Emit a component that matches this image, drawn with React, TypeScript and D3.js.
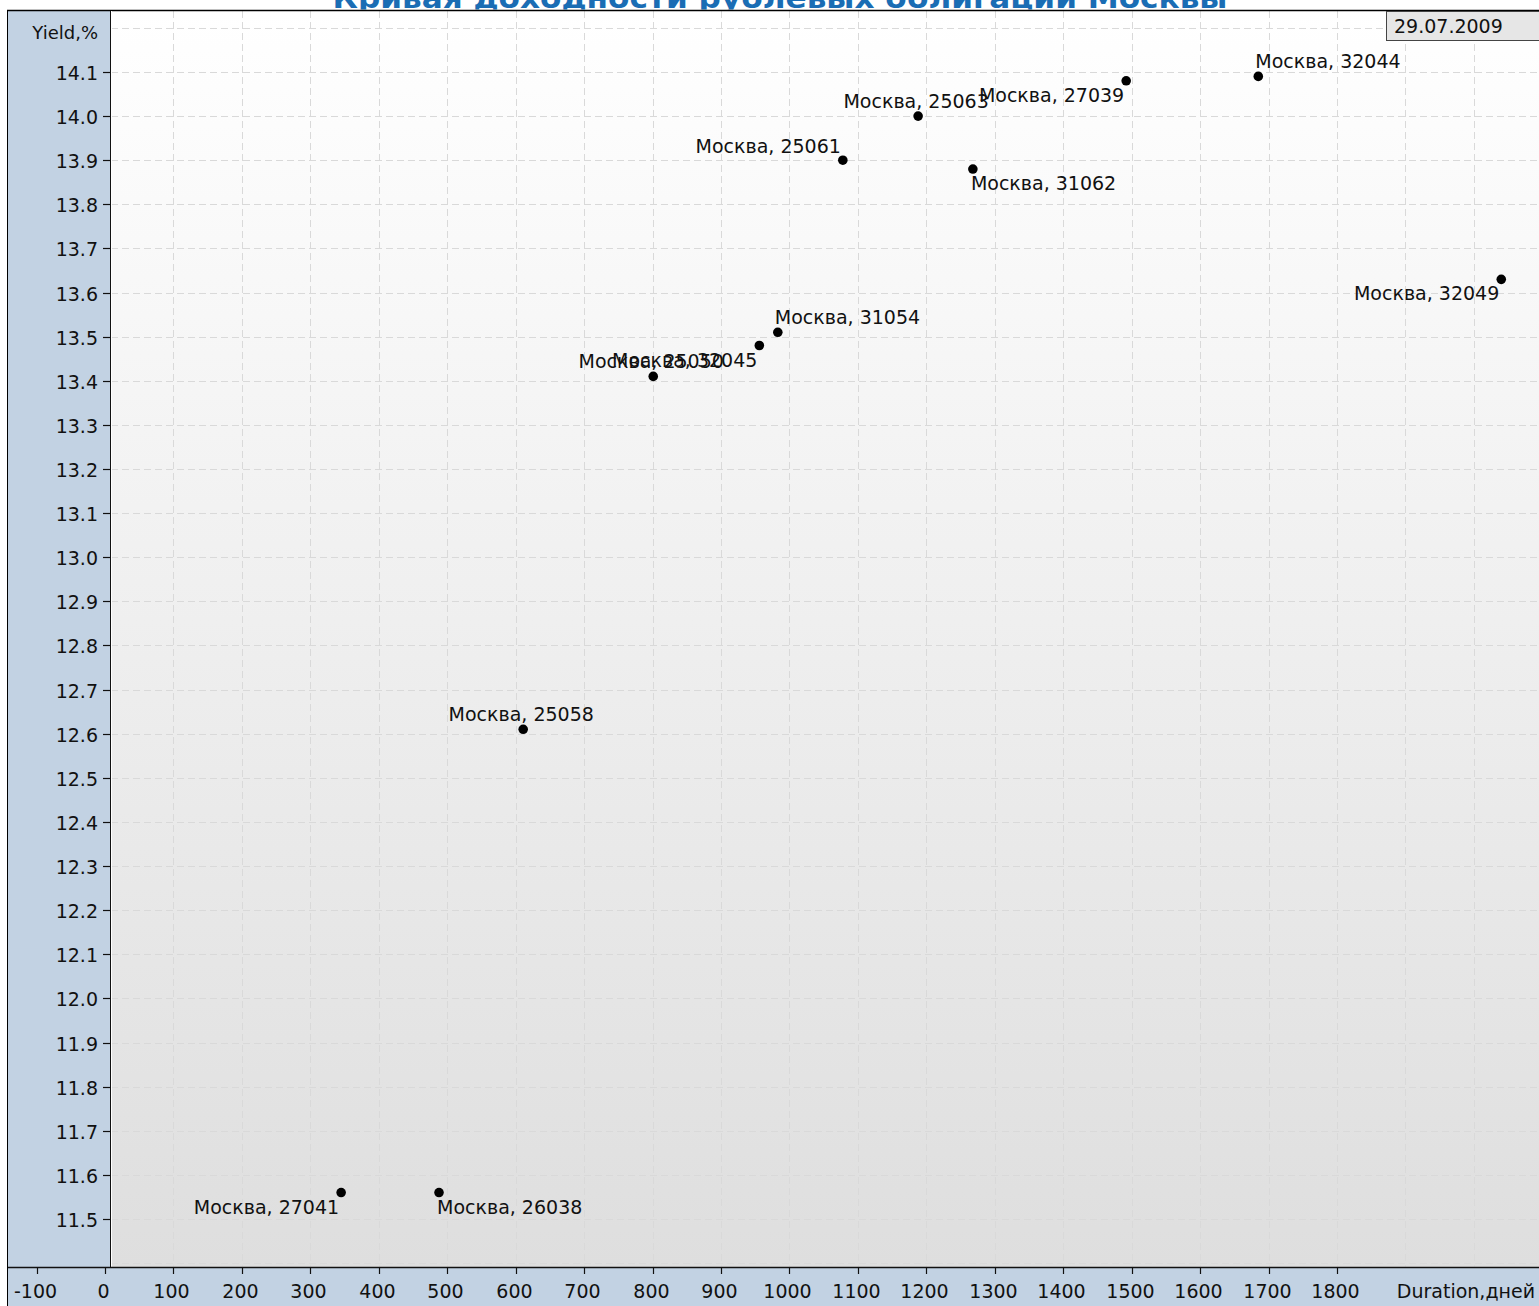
import React from "react";
import * as d3 from "d3";

const bondNames = [
  "Москва, 32044", "Москва, 27039", "Москва, 25063", "Москва, 25061",
  "Москва, 31062", "Москва, 32049", "Москва, 31054", "Москва, 32045",
  "Москва, 25050", "Москва, 25058", "Москва, 27041", "Москва, 26038",
];
const durations = [1685, 1492, 1188, 1078, 1268, 2040, 983, 956, 801, 611, 345, 488];
const yields = [14.09, 14.08, 14.0, 13.9, 13.88, 13.63, 13.51, 13.48, 13.41, 12.61, 11.56, 11.56];
// label placement: ra = right-above, lb = left-below, ca = centre-above, la = left-above, rb = right-below
const labelPlacement = ["ra", "lb", "ca", "la", "rb", "lb", "ra", "lb", "ca", "ca", "lb", "rb"];

const xTickValues = d3.range(-100, 1801, 100);
const xGridValues = d3.range(100, 2001, 100);
const yTickValues = d3.range(115, 142, 1).map((v) => v / 10);
const yGridValues = d3.range(114, 143, 1).map((v) => v / 10);

const title = "Кривая доходности рублевых облигаций Москвы";
const dateLabel = "29.07.2009";
const yAxisTitle = "Yield,%";
const xAxisTitle = "Duration,дней";

const W = 1539;
const H = 1306;
const FONT = "'DejaVu Sans', Verdana, sans-serif";

export default function App() {
  const x = d3.scaleLinear().domain([0, 1800]).range([105, 1337]);
  const y = d3.scaleLinear().domain([11.5, 14.1]).range([1219, 72]);

  const plotLeft = 111;
  const plotTop = 11;
  const plotBottom = 1267;
  const panel = "#c2d2e3";

  const labelPos = (p: string, px: number, py: number) => {
    switch (p) {
      case "ra": return { x: px - 3, y: py - 8, anchor: "start" };
      case "rb": return { x: px - 2, y: py + 21, anchor: "start" };
      case "la": return { x: px - 2, y: py - 7, anchor: "end" };
      case "lb": return { x: px - 2, y: py + 21, anchor: "end" };
      default: return { x: px - 2, y: py - 8, anchor: "middle" };
    }
  };

  return (
    <svg
      width={W}
      height={H}
      style={{ position: "absolute", left: 0, top: 0, display: "block" }}
      fontFamily={FONT}
    >
      <defs>
        <linearGradient id="plotBg" x1="0" y1="0" x2="0" y2="1">
          <stop offset="0%" stopColor="#ffffff" />
          <stop offset="100%" stopColor="#dedede" />
        </linearGradient>
        <clipPath id="titleClip">
          <rect x={0} y={0} width={W} height={9.5} />
        </clipPath>
        <clipPath id="plotClip">
          <rect x={plotLeft} y={plotTop} width={W - plotLeft} height={plotBottom - plotTop} />
        </clipPath>
      </defs>
      <rect x={0} y={0} width={W} height={H} fill="#ffffff" />

      {/* title (clipped at top as in the reference) */}
      <g clipPath="url(#titleClip)">
        <text
          x={780}
          y={8}
          textAnchor="middle"
          fontWeight="bold"
          fontSize={28}
          fill="#1a6db4"
          textLength={895}
          lengthAdjust="spacingAndGlyphs"
        >
          {title}
        </text>
      </g>

      {/* panels */}
      <rect x={8} y={11} width={plotLeft - 8} height={plotBottom - 11} fill={panel} />
      <rect x={8} y={plotBottom} width={W - 8} height={H - plotBottom} fill={panel} />
      <rect x={plotLeft} y={plotTop} width={W - plotLeft} height={plotBottom - plotTop} fill="url(#plotBg)" />

      {/* grid */}
      <g clipPath="url(#plotClip)" stroke="#d9d9d9" strokeWidth={1} strokeDasharray="7,4">
        {xGridValues.map((v) => (
          <line key={"gx" + v} x1={Math.round(x(v)) + 0.5} x2={Math.round(x(v)) + 0.5} y1={plotTop} y2={plotBottom} />
        ))}
        {yGridValues.map((v) => (
          <line key={"gy" + v} x1={plotLeft} x2={W} y1={Math.round(y(v)) + 0.5} y2={Math.round(y(v)) + 0.5} />
        ))}
      </g>

      {/* frame and axes */}
      <line x1={7} x2={W} y1={10.5} y2={10.5} stroke="#000" strokeWidth={1.6} />
      <line x1={7.5} x2={7.5} y1={10} y2={H} stroke="#000" strokeWidth={1} />
      <line x1={110.5} x2={110.5} y1={11} y2={plotBottom} stroke="#111" strokeWidth={1} />
      <line x1={111.5} x2={111.5} y1={11} y2={plotBottom} stroke="#ffffff" strokeWidth={1} />
      <line x1={8} x2={W} y1={plotBottom + 0.5} y2={plotBottom + 0.5} stroke="#111" strokeWidth={1.5} />

      {/* y axis ticks */}
      {yTickValues.map((v) => {
        const yy = Math.round(y(v)) + 0.5;
        return (
          <g key={"ty" + v}>
            <line x1={103} x2={110} y1={yy} y2={yy} stroke="#111" strokeWidth={1.2} />
            <text x={98} y={yy + 7} textAnchor="end" fontSize={19} fill="#111">
              {v.toFixed(1)}
            </text>
          </g>
        );
      })}
      <text x={98} y={39} textAnchor="end" fontSize={18} fill="#111">
        {yAxisTitle}
      </text>

      {/* x axis ticks */}
      {xTickValues.map((v) => {
        const xx = Math.round(x(v)) + 0.5;
        return (
          <g key={"tx" + v}>
            <line x1={xx} x2={xx} y1={plotBottom} y2={plotBottom + 7} stroke="#111" strokeWidth={1.2} />
            <text x={xx - 2} y={1298} textAnchor="middle" fontSize={19} fill="#111">
              {v}
            </text>
          </g>
        );
      })}
      <text x={1535} y={1298} textAnchor="end" fontSize={19} fill="#111">
        {xAxisTitle}
      </text>

      {/* points + labels */}
      {bondNames.map((name, i) => {
        const px = x(durations[i]);
        const py = y(yields[i]);
        const lp = labelPos(labelPlacement[i], px, py);
        return (
          <g key={name}>
            <circle cx={px} cy={py} r={4.8} fill="#000" />
            <text x={lp.x} y={lp.y} textAnchor={lp.anchor as any} fontSize={19} fill="#111">
              {name}
            </text>
          </g>
        );
      })}

      {/* date box */}
      <rect x={1386.5} y={11.5} width={160} height={29} fill="#e6e6e6" stroke="#444" strokeWidth={1} />
      <text x={1394} y={33} fontSize={19} fill="#111">
        {dateLabel}
      </text>
    </svg>
  );
}
